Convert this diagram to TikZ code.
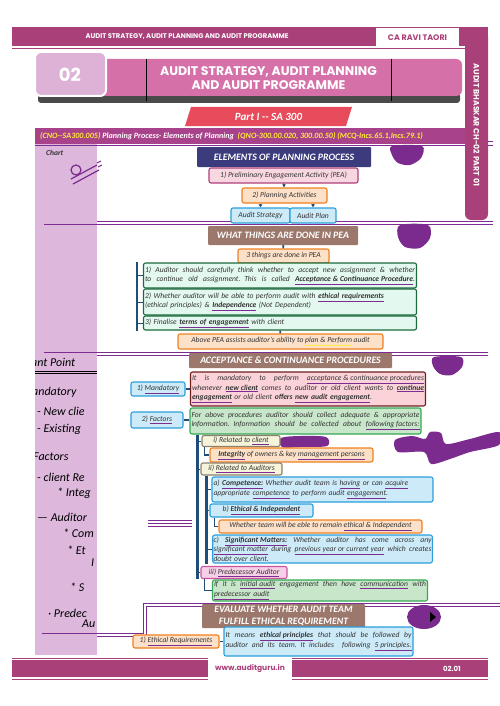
\documentclass[tikz,border=0pt]{standalone}
\usepackage{fontspec}
\setmainfont{Carlito}
\newfontfamily\headfont{Poppins}
\usetikzlibrary{positioning,arrows.meta,calc}

\definecolor{hdrmag}{HTML}{AA4079}
\definecolor{bannerpink}{HTML}{D670A8}
\definecolor{chaplilac}{HTML}{DDB2D6}
\definecolor{shadowgray}{HTML}{4A4A4A}
\definecolor{partred}{HTML}{E84B5B}
\definecolor{cnomag}{HTML}{A8428A}
\definecolor{cnoyellow}{HTML}{FFEB3B}
\definecolor{striplilac}{HTML}{DDB8DC}
\definecolor{seppurple}{HTML}{7D2D91}
\definecolor{scrpurple}{HTML}{7B2A8E}
\definecolor{navy}{HTML}{3B3B7E}
\definecolor{brownbox}{HTML}{9C786C}
\definecolor{linkblue}{HTML}{1F4E79}
\definecolor{txtgray}{HTML}{333333}
\definecolor{peaborder}{HTML}{B0407A}
\definecolor{peafill}{HTML}{F9D7E0}
\definecolor{orborder}{HTML}{F0801E}
\definecolor{orfill}{HTML}{FCE0C8}
\definecolor{blborder}{HTML}{2A9FDB}
\definecolor{blfill}{HTML}{CDEAF8}
\definecolor{mintborder}{HTML}{1D6A3C}
\definecolor{mintfill}{HTML}{E3F8EF}
\definecolor{grborder}{HTML}{34A853}
\definecolor{grfill}{HTML}{C8E6C9}
\definecolor{rdborder}{HTML}{6E1F1F}
\definecolor{rdfill}{HTML}{FAD2D8}
\definecolor{bgborder}{HTML}{8C806E}
\definecolor{bgfill}{HTML}{F7F4DC}
\definecolor{prborder}{HTML}{C8559E}
\definecolor{prfill}{HTML}{F6D0E6}

\newcommand\boxfont{\fontsize{7.6}{9.3}\selectfont\itshape}
\newcommand\titlefont{\fontsize{9.8}{11.5}\selectfont\bfseries\itshape}
\newcommand\handfont{\fontsize{12}{14}\selectfont\itshape}
\newcommand\pul[1]{{\color{seppurple}$\underline{\hbox{\color{txtgray}#1}}$}}
\newcommand\yul[1]{{\color{cnoyellow}$\underline{\hbox{\color{txtgray}#1}}$}}
\newcommand\kw[1]{\pul{\textbf{#1}}}
% full-width line: spaces stretch to the box edge
\newcommand\fl[1]{\makebox[\hsize][s]{\spaceskip=0.25em plus 1fil\relax #1}}
\newcommand\jl[1]{\fl{#1}\\}

\tikzset{
  box/.style={rounded corners=2pt, line width=1.1pt, inner sep=1.5pt, font=\boxfont, text=txtgray, align=left},
  pinkbox/.style={box, draw=peaborder, fill=peafill},
  orangebox/.style={box, draw=orborder, fill=orfill},
  bluebox/.style={box, draw=blborder, fill=blfill},
  mintbox/.style={box, draw=mintborder, fill=mintfill},
  greenbox/.style={box, draw=grborder, fill=grfill},
  redbox/.style={box, draw=rdborder, fill=rdfill},
  beigebox/.style={box, draw=bgborder, fill=bgfill},
  predbox/.style={box, draw=prborder, fill=prfill},
  headbox/.style={rounded corners=1pt, text=white, font=\titlefont, align=center, inner sep=1pt},
  link/.style={draw=linkblue, line width=1.6pt},
  linkarrow/.style={link, -{Latex[length=3pt,width=4pt]}},
  sep/.style={draw=seppurple, line width=0.9pt},
  hand/.style={anchor=west, font=\handfont, text=black, inner sep=0pt},
}

\begin{document}
\begin{tikzpicture}[x=1pt,y=-1pt]
  \useasboundingbox (0,0) rectangle (500,706);
  \fill[white] (0,0) rectangle (500,706);

  % left note strip
  \fill[striplilac] (35,144) rectangle (97,655);
  \node[hand, font=\fontsize{7.5}{9}\selectfont\bfseries\itshape, text=txtgray] (chart) at (46,153) {Chart};
  \draw[scrpurple, line width=1.2pt] (76,170) circle (5pt);
  \draw[scrpurple, line width=1.2pt] (71,179) -- (97,165) (73,184) -- (99,170);
  \draw[scrpurple, line width=1pt] (97,163) -- (101,161) (98,167) -- (102,165);

  % handwritten notes
  \begin{scope}
    \clip (35,144) rectangle (97,655);
    \node[hand] (n1) at (31,362) {ant Point};
    \node[hand] (n2) at (32,392) {andatory};
    \node[hand] (n3) at (37,411) {- New clie};
    \node[hand] (n4) at (37,429) {- Existing};
    \node[hand] (n5) at (33,457) {Factors};
    \node[hand] (n6) at (37,477) {- client Re};
    \node[hand] (n7) at (57,493) {* Integ};
    \node[hand] (n8) at (37,517) {— Auditor};
    \node[hand] (n9) at (63,533) {* Com};
    \node[hand] (n10) at (67,550) {* Et};
    \node[hand] (n11) at (91,563) {I};
    \node[hand] (n12) at (70,587) {* S};
    \node[hand] (n13) at (48,613) {· Predec};
    \node[hand] (n14) at (82,624) {Au};
    \draw[black, line width=0.6pt] (35,371) -- (97,371) (35,373.5) -- (97,373.5);
  \end{scope}

  % purple separators
  \draw[sep] (35,145) -- (493,145);
  \draw[sep] (465,141.5) -- (493,141.5);
  \draw[sep] (44,224) -- (493,224);
  \draw[sep] (97,221) -- (493,221);
  \draw[sep] (44,352) -- (488,352);
  \draw[sep] (97,355.5) -- (488,355.5);
  \draw[sep] (42,633) -- (143,633) -- (143,603) -- (500,603);
  \draw[sep] (97,636.5) -- (146.5,636.5) -- (146.5,606.5) -- (500,606.5);
  \draw[sep] (148,520) -- (192,520) (148,523) -- (192,523) (148,526) -- (192,526);

  % scribbles
  \fill[scrpurple] plot[smooth cycle] coordinates {(392,146) (422,146) (421,158) (410,165) (398,163) (392,155)};
  \fill[scrpurple] plot[smooth cycle] coordinates {(400,225) (428,225) (430,238) (420,248) (405,247) (398,237)};
  \fill[scrpurple] plot[smooth cycle] coordinates {(434,357) (461,357) (462,367) (452,375) (440,374) (433,366)};
  \fill[scrpurple] plot[smooth cycle] coordinates {(395,440) (412,436) (425,439) (430,432) (441,433) (446,444) (470,439) (499,432) (499,445) (470,452) (450,459) (431,464) (424,452) (398,452)};
  \fill[scrpurple] plot[smooth cycle] coordinates {(281,438) (300,436) (326,437) (327,446) (300,447) (282,447)};
  \fill[scrpurple] (424,617) ellipse (17pt and 12pt);
  \fill[black] (430,612) -- (436,617) -- (430,622) -- cycle;

  % header
  \fill[hdrmag] (12,27) rectangle (488,46);
  \draw[hdrmag, line width=1pt] (12,48.5) -- (465,48.5);
  \fill[hdrmag, rounded corners=6pt] (465,30) rectangle (488,220);
  \fill[white] (376,28) rectangle (459,47.5);
  \node[font=\headfont\bfseries\fontsize{6.8}{8}\selectfont, text=white] (hdrtitle) at (187,37) {AUDIT STRATEGY, AUDIT PLANNING AND AUDIT PROGRAMME};
  \node[font=\headfont\bfseries\fontsize{8}{9}\selectfont, text=hdrmag] (hdrname) at (417.5,37.5) {CA RAVI TAORI};
  \node[rotate=-90, font=\headfont\bfseries\fontsize{7.8}{9}\selectfont, text=white] (sidetitle) at (476.5,125) {AUDIT BHASKAR CH-02 PART 01};

  % chapter banner
  \fill[shadowgray, rounded corners=3pt] (38,93) rectangle (460,103);
  \fill[bannerpink, rounded corners=6pt] (100,59) rectangle (462,96);
  \draw[black, line width=0.8pt] (146,59) -- (146,101) (391,59) -- (391,101);
  \node[font=\headfont\bfseries\fontsize{12.5}{14}\selectfont, text=white, align=center] (chaptitle) at (268.5,78) {AUDIT STRATEGY, AUDIT PLANNING\\AND AUDIT PROGRAMME};
  \draw[white, line width=2pt, fill=chaplilac, rounded corners=6pt] (35,52) rectangle (106,96);
  \node[font=\headfont\bfseries\fontsize{18}{20}\selectfont, text=white] (chapno) at (70,75) {02};

  % part
  \fill[partred] (191,107) -- (352,107) -- (346,126) -- (185,126) -- cycle;
  \node[font=\fontsize{11}{12}\selectfont\bfseries\itshape, text=white] (part) at (268.5,116.5) {Part I -{}- SA 300};

  % cno bar
  \fill[cnomag] (35,128) rectangle (465,144);
  \node[anchor=west, inner sep=0pt, font=\fontsize{8.1}{9}\selectfont\bfseries\itshape] (cno) at (40,136)
    {\textcolor{cnoyellow}{(CNO-{}-SA300.005)} \textcolor{white}{Planning Process- Elements of Planning}\ \ \textcolor{cnoyellow}{(QNO-300.00.020, 300.00.50) (MCQ-Incs.65.1,Incs.79.1)}};

  % elements of planning
  \node[headbox, fill=navy, minimum width=174pt, minimum height=20pt] (elem) at (284,157) {ELEMENTS OF PLANNING PROCESS};
  \node[pinkbox, minimum width=149pt, minimum height=15pt, align=center] (pea) at (283.5,175.5) {1) Preliminary Engagement Activity (PEA)};
  \node[orangebox, minimum width=85pt, minimum height=15pt, align=center] (plan) at (284.5,195.5) {2) Planning Activities};
  \node[bluebox, minimum width=59pt, minimum height=15pt, align=center] (strat) at (260.5,215.5) {Audit Strategy};
  \node[bluebox, minimum width=46pt, minimum height=15pt, align=center] (aplan) at (313,215.5) {Audit Plan};

  % what is done in pea
  \node[headbox, fill=brownbox, minimum width=150pt, minimum height=19pt] (whatpea) at (283,235.5) {WHAT THINGS ARE DONE IN PEA};
  \node[orangebox, minimum width=91pt, minimum height=14pt, align=center] (three) at (283.5,256) {3 things are done in PEA};
  \node[mintbox, text width=270pt, minimum height=25pt] (g1) at (280,275.5)
    {\jl{1) Auditor should carefully think whether to accept new assignment \& whether}
     \fl{to continue old assignment. This is called \kw{Acceptance \& Continuance Procedure}.}};
  \node[mintbox, text width=270pt, minimum height=26pt] (g2) at (280,302)
    {2) Whether auditor will be able to perform audit with \kw{ethical requirements}\\ (ethical principles) \& \kw{Independence} (Not Dependent)};
  \node[mintbox, text width=270pt, minimum height=14pt] (g3) at (280,323)
    {3) Finalise \kw{terms of engagement} with client};
  \node[orangebox, minimum width=205pt, minimum height=15pt, align=center] (above) at (280.5,341.5)
    {Above PEA assists auditor’s ability to \yul{plan \& Perform} audit};

  % acceptance and continuance
  \node[headbox, fill=brownbox, minimum width=203pt, minimum height=15pt] (accept) at (290.5,360.5) {ACCEPTANCE \& CONTINUANCE PROCEDURES};
  \node[bluebox, minimum width=54pt, minimum height=14pt, align=center] (mand) at (158,389) {1) \pul{Mandatory}};
  \node[redbox, text width=232pt, minimum height=34pt] (mandbox) at (308,389)
    {\jl{It is mandatory to perform \pul{acceptance \& continuance procedures}}
     \jl{whenever \kw{new client} comes to auditor or old client wants to \kw{continue}}
     \kw{engagement} or old client \textbf{offers} \kw{new audit engagement}.};
  \node[bluebox, minimum width=52pt, minimum height=16pt, align=center] (fact) at (157,420) {2) \pul{Factors}};
  \node[greenbox, text width=228pt, minimum height=26pt] (factbox) at (305.5,421)
    {\jl{For above procedures auditor should collect adequate \& appropriate}
     \fl{information. Information should be collected about \pul{following factors:}}};
  \node[beigebox, minimum width=78pt, minimum height=11pt, align=center] (client) at (241,441) {i) Related to \pul{client}};
  \node[orangebox, minimum width=163pt, minimum height=14pt, align=center] (integ) at (291.5,455) {\kw{Integrity} of owners \& key \pul{management persons}};
  \node[beigebox, minimum width=81pt, minimum height=12pt, align=center] (auditors) at (241.5,469) {ii) \pul{Related to Auditors}};
  \node[bluebox, text width=218pt, minimum height=25pt] (comp) at (322.5,489.5)
    {a) \kw{Competence:} Whether audit team is \pul{having} or can \pul{acquire}\\ appropriate \pul{competence} to perform audit \pul{engagement}.};
  \node[bluebox, minimum width=103pt, minimum height=13pt, align=left] (ethic) at (261.5,510.5) {b) \kw{Ethical \& Independent}};
  \node[orangebox, minimum width=203pt, minimum height=13pt, align=center] (team) at (320.5,526.5) {Whether team will be eble to remain \pul{ethical \& Independent}};
  \node[bluebox, text width=218pt, minimum height=28pt, inner sep=0.8pt] (sig) at (322.5,549)
    {\jl{c) \kw{Significant Matters:} Whether auditor has come across any}
     \jl{\pul{significant matter} during \pul{previous year or current year} which creates}
     doubt over client.};
  \node[predbox, minimum width=86pt, minimum height=12pt, align=center] (pred) at (244,572.5) {iii) \pul{Predecessor Auditor}};
  \node[greenbox, text width=212pt, minimum height=21pt] (initial) at (320,590.5)
    {\jl{If it is \pul{initial audit} engagement then have \pul{communication} with}
     \pul{predecessor audit}};

  % evaluate
  \node[headbox, fill=brownbox, minimum width=163pt, minimum height=24pt] (evaluate) at (283.5,616) {EVALUATE WHETHER AUDIT TEAM\\FULFILL ETHICAL REQUIREMENT};
  \node[orangebox, minimum width=86pt, minimum height=13pt, align=center] (ethreq) at (176,641.5) {1) \pul{Ethical Requirements}};
  \node[bluebox, text width=186pt, minimum height=29pt] (ethbox) at (318.5,641.5)
    {\jl{It means \kw{ethical principles} that should be followed by}
     \fl{auditor and its team. It includes\ \ following \pul{5 principles.}}};

  % connectors
  \draw[linkarrow] (pea) -- (plan);
  \draw[linkarrow] (strat.north |- plan.south) -- (strat.north);
  \draw[linkarrow] (aplan.north |- plan.south) -- (aplan.north);
  \draw[link] (whatpea) -- (three);
  \draw[link] (g3) -- (above);
  \draw[link, line width=2.4pt] ([xshift=-6pt]g1.north west) -- ([xshift=-6pt]g3.south west);
  \foreach \b in {g1,g2,g3}
    \draw[link, line width=1pt] ([xshift=-6pt]\b.west) -- (\b.west);
  \draw[link] (mand) -- (mandbox);
  \draw[link] (fact.east) -- (fact.east -| factbox.west);
  \draw[link, line width=2.4pt] ([xshift=8pt]factbox.south west) coordinate (ftop) -- (ftop |- pred.south);
  \foreach \b in {client,auditors,pred}
    \draw[link, line width=1pt] (ftop |- \b.west) -- (\b.west);
  \draw[link] ([xshift=3pt]client.south west) |- (integ.west);
  \draw[link, line width=2.2pt] ([xshift=6pt]auditors.south west) coordinate (atop) -- (atop |- sig.south);
  \foreach \b in {comp,ethic,sig}
    \draw[link, line width=1pt] (atop |- \b.west) -- (\b.west);
  \draw[link] ([xshift=5pt]ethic.south west) |- (team.west);
  \draw[link] ([xshift=4pt]pred.south west) |- (initial.west);
  \draw[link] (ethreq) -- (ethbox);

  % footer
  \fill[hdrmag] (12,660) rectangle (488,677);
  \draw[hdrmag, line width=0.8pt] (12,658) -- (488,658) (12,679) -- (488,679);
  \fill[white] (208,658) rectangle (292,680);
  \node[font=\headfont\bfseries\fontsize{7.5}{9}\selectfont, text=hdrmag] (site) at (250,668.5) {www.auditguru.in};
  \node[font=\headfont\bfseries\fontsize{7}{8}\selectfont, text=white] (pageno) at (452,668.5) {02.01};
\end{tikzpicture}
\end{document}
